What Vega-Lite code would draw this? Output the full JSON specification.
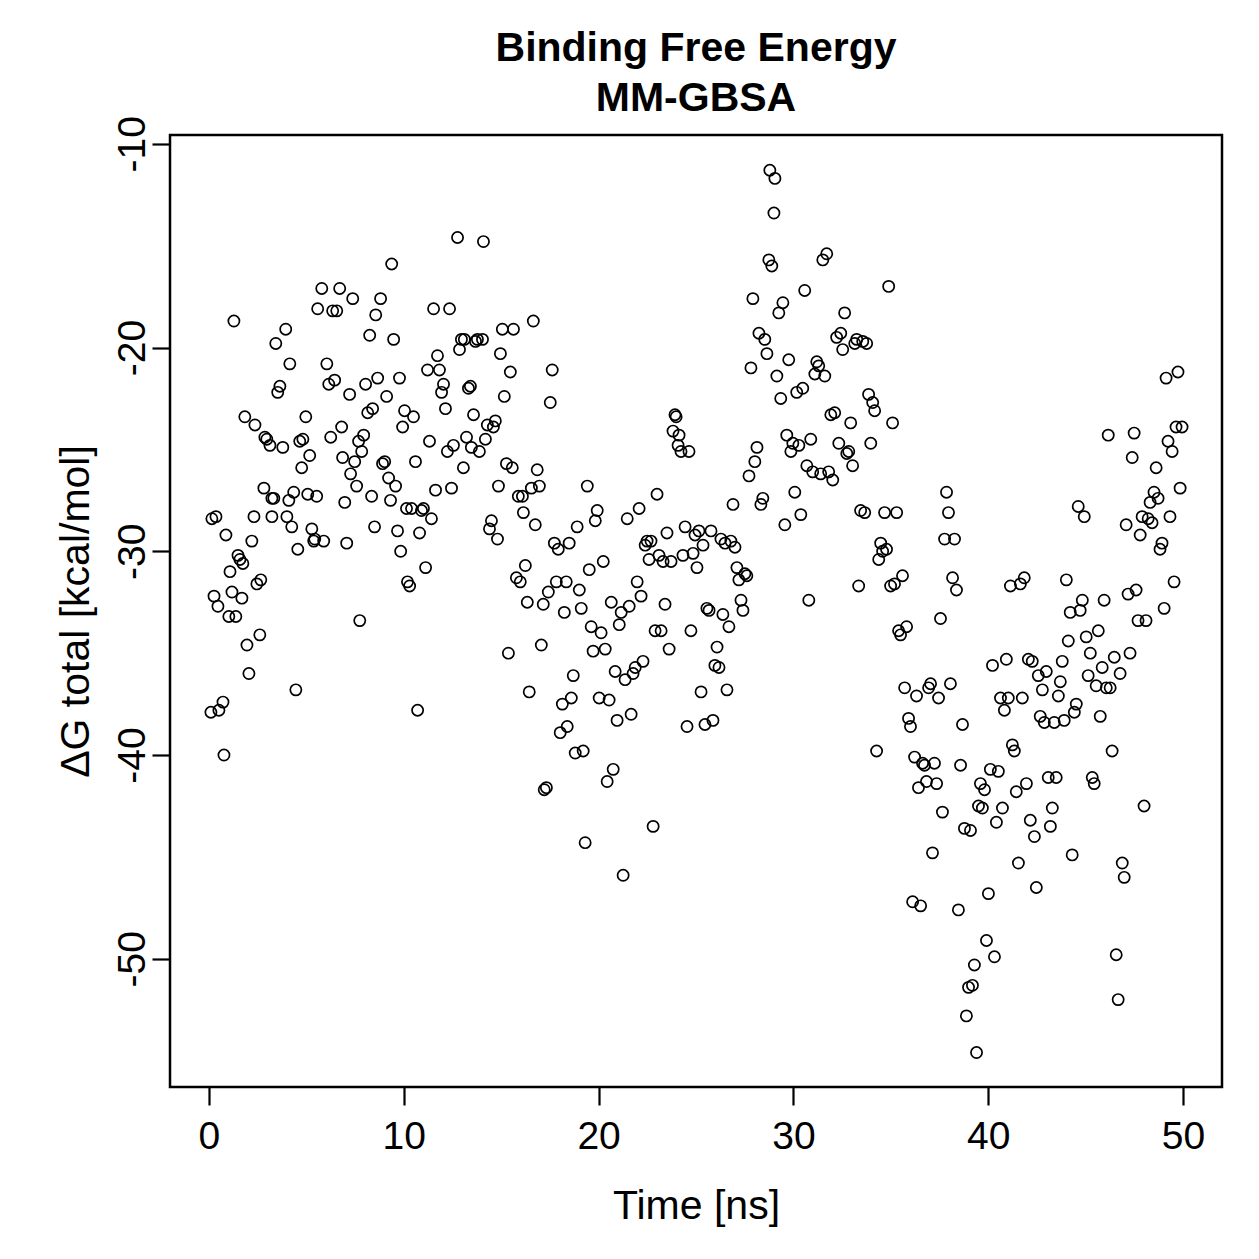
{
  "$schema": "https://vega.github.io/schema/vega-lite/v6.json",
  "autosize": "none",
  "width": 1052,
  "height": 952,
  "padding": {"left": 170, "top": 135, "right": 37, "bottom": 172},
  "background": "white",
  "config": {
    "font": "Liberation Sans",
    "view": {"stroke": "black", "strokeWidth": 2.5},
    "axis": {"grid": false, "domain": false, "tickColor": "black", "tickWidth": 2.2, "tickSize": 18, "labelColor": "black", "titleColor": "black", "labelFontSize": 39, "titleFontSize": 41, "titleFontWeight": "normal", "labelFont": "Liberation Sans", "titleFont": "Liberation Sans"}
  },
  "title": {
    "text": ["Binding Free Energy", "MM-GBSA"],
    "fontSize": 41,
    "fontWeight": "bold",
    "font": "Liberation Sans",
    "color": "black",
    "lineHeight": 50,
    "anchor": "middle",
    "offset": -4
  },
  "data": {
    "values": [
      {"t":0.10,"dG":-37.9},{"t":0.15,"dG":-28.4},{"t":0.36,"dG":-28.3},{"t":0.26,"dG":-32.2},{"t":0.46,"dG":-32.7},
      {"t":0.51,"dG":-37.8},{"t":0.72,"dG":-37.4},{"t":0.77,"dG":-40.0},{"t":0.87,"dG":-29.2},{"t":1.02,"dG":-33.2},
      {"t":1.08,"dG":-31.0},{"t":1.18,"dG":-32.0},{"t":1.28,"dG":-18.7},{"t":1.38,"dG":-33.2},{"t":1.49,"dG":-30.2},
      {"t":1.59,"dG":-30.4},{"t":1.69,"dG":-32.3},{"t":1.74,"dG":-30.6},{"t":1.84,"dG":-23.4},{"t":1.95,"dG":-34.6},
      {"t":2.05,"dG":-36.0},{"t":2.20,"dG":-29.5},{"t":2.31,"dG":-28.3},{"t":2.36,"dG":-23.8},{"t":2.46,"dG":-31.6},
      {"t":2.61,"dG":-34.1},{"t":2.66,"dG":-31.4},{"t":2.82,"dG":-26.9},{"t":2.87,"dG":-24.4},{"t":2.97,"dG":-24.5},
      {"t":3.13,"dG":-24.8},{"t":3.23,"dG":-27.4},{"t":3.23,"dG":-28.3},{"t":3.33,"dG":-27.4},{"t":3.43,"dG":-19.8},
      {"t":3.53,"dG":-22.2},{"t":3.64,"dG":-21.9},{"t":3.79,"dG":-24.9},{"t":3.94,"dG":-19.1},{"t":4.00,"dG":-28.3},
      {"t":4.10,"dG":-27.5},{"t":4.15,"dG":-20.8},{"t":4.25,"dG":-28.8},{"t":4.35,"dG":-27.1},{"t":4.46,"dG":-36.8},
      {"t":4.56,"dG":-29.9},{"t":4.66,"dG":-24.6},{"t":4.76,"dG":-25.9},{"t":4.82,"dG":-24.5},{"t":4.97,"dG":-23.4},
      {"t":5.07,"dG":-27.2},{"t":5.17,"dG":-25.3},{"t":5.28,"dG":-28.9},{"t":5.38,"dG":-29.5},{"t":5.43,"dG":-29.4},
      {"t":5.53,"dG":-27.3},{"t":5.58,"dG":-18.1},{"t":5.79,"dG":-17.1},{"t":5.89,"dG":-29.5},{"t":6.05,"dG":-20.8},
      {"t":6.15,"dG":-21.8},{"t":6.25,"dG":-24.4},{"t":6.35,"dG":-18.2},{"t":6.45,"dG":-21.6},{"t":6.56,"dG":-18.2},
      {"t":6.71,"dG":-17.1},{"t":6.81,"dG":-23.9},{"t":6.86,"dG":-25.4},{"t":6.97,"dG":-27.6},{"t":7.07,"dG":-29.6},
      {"t":7.22,"dG":-22.3},{"t":7.27,"dG":-26.2},{"t":7.38,"dG":-17.6},{"t":7.48,"dG":-25.6},{"t":7.58,"dG":-26.8},
      {"t":7.68,"dG":-24.6},{"t":7.74,"dG":-33.4},{"t":7.84,"dG":-25.1},{"t":7.94,"dG":-24.3},{"t":8.04,"dG":-21.8},
      {"t":8.15,"dG":-23.2},{"t":8.25,"dG":-19.4},{"t":8.35,"dG":-27.3},{"t":8.40,"dG":-23.0},{"t":8.50,"dG":-28.8},
      {"t":8.56,"dG":-18.4},{"t":8.66,"dG":-21.5},{"t":8.81,"dG":-17.6},{"t":8.91,"dG":-25.7},{"t":9.02,"dG":-25.6},
      {"t":9.12,"dG":-22.4},{"t":9.22,"dG":-26.4},{"t":9.32,"dG":-27.5},{"t":9.38,"dG":-15.9},{"t":9.48,"dG":-19.6},
      {"t":9.58,"dG":-26.8},{"t":9.68,"dG":-29.0},{"t":9.78,"dG":-21.5},{"t":9.84,"dG":-30.0},{"t":9.94,"dG":-23.9},
      {"t":10.04,"dG":-23.1},{"t":10.14,"dG":-27.9},{"t":10.19,"dG":-31.5},{"t":10.30,"dG":-31.7},{"t":10.40,"dG":-27.9},
      {"t":10.50,"dG":-23.4},{"t":10.60,"dG":-25.6},{"t":10.71,"dG":-37.8},{"t":10.81,"dG":-29.1},{"t":10.91,"dG":-28.0},
      {"t":11.01,"dG":-27.9},{"t":11.12,"dG":-30.8},{"t":11.22,"dG":-21.1},{"t":11.32,"dG":-24.6},{"t":11.42,"dG":-28.4},
      {"t":11.53,"dG":-18.1},{"t":11.63,"dG":-27.0},{"t":11.73,"dG":-20.4},{"t":11.83,"dG":-21.1},{"t":11.94,"dG":-22.2},
      {"t":12.04,"dG":-21.8},{"t":12.14,"dG":-23.0},{"t":12.24,"dG":-25.1},{"t":12.35,"dG":-18.1},{"t":12.45,"dG":-26.9},
      {"t":12.55,"dG":-24.8},{"t":12.76,"dG":-14.6},{"t":12.86,"dG":-20.1},{"t":12.96,"dG":-19.6},{"t":13.06,"dG":-25.9},
      {"t":13.11,"dG":-19.6},{"t":13.22,"dG":-24.4},{"t":13.32,"dG":-22.0},{"t":13.42,"dG":-21.9},{"t":13.47,"dG":-24.9},
      {"t":13.58,"dG":-23.3},{"t":13.68,"dG":-19.7},{"t":13.78,"dG":-19.6},{"t":13.88,"dG":-25.1},{"t":14.04,"dG":-19.6},
      {"t":14.09,"dG":-14.8},{"t":14.19,"dG":-24.5},{"t":14.29,"dG":-23.8},{"t":14.40,"dG":-28.9},{"t":14.50,"dG":-28.5},
      {"t":14.60,"dG":-23.9},{"t":14.70,"dG":-23.6},{"t":14.81,"dG":-29.4},{"t":14.86,"dG":-26.8},{"t":14.96,"dG":-20.3},
      {"t":15.06,"dG":-19.1},{"t":15.16,"dG":-22.4},{"t":15.27,"dG":-25.7},{"t":15.37,"dG":-35.0},{"t":15.47,"dG":-21.2},
      {"t":15.57,"dG":-25.9},{"t":15.63,"dG":-19.1},{"t":15.78,"dG":-31.3},{"t":15.88,"dG":-27.3},{"t":15.98,"dG":-31.5},
      {"t":16.09,"dG":-27.3},{"t":16.14,"dG":-28.1},{"t":16.24,"dG":-30.7},{"t":16.34,"dG":-32.5},{"t":16.44,"dG":-36.9},
      {"t":16.55,"dG":-26.9},{"t":16.65,"dG":-18.7},{"t":16.75,"dG":-28.7},{"t":16.85,"dG":-26.0},{"t":16.96,"dG":-26.8},
      {"t":17.06,"dG":-34.6},{"t":17.16,"dG":-32.6},{"t":17.21,"dG":-41.7},{"t":17.32,"dG":-41.6},{"t":17.42,"dG":-32.0},
      {"t":17.52,"dG":-22.7},{"t":17.62,"dG":-21.1},{"t":17.73,"dG":-29.6},{"t":17.83,"dG":-31.5},{"t":17.93,"dG":-29.9},
      {"t":18.03,"dG":-38.9},{"t":18.14,"dG":-37.5},{"t":18.24,"dG":-33.0},{"t":18.34,"dG":-31.5},{"t":18.39,"dG":-38.6},
      {"t":18.49,"dG":-29.6},{"t":18.60,"dG":-37.2},{"t":18.70,"dG":-36.1},{"t":18.80,"dG":-39.9},{"t":18.90,"dG":-28.8},
      {"t":19.01,"dG":-31.9},{"t":19.11,"dG":-32.8},{"t":19.21,"dG":-39.8},{"t":19.31,"dG":-44.3},{"t":19.42,"dG":-26.8},
      {"t":19.52,"dG":-30.9},{"t":19.62,"dG":-33.7},{"t":19.72,"dG":-34.9},{"t":19.83,"dG":-28.5},{"t":19.93,"dG":-28.0},
      {"t":20.03,"dG":-37.2},{"t":20.13,"dG":-34.0},{"t":20.24,"dG":-30.5},{"t":20.34,"dG":-34.8},{"t":20.44,"dG":-41.3},
      {"t":20.54,"dG":-37.3},{"t":20.65,"dG":-32.5},{"t":20.75,"dG":-40.7},{"t":20.85,"dG":-35.9},{"t":20.95,"dG":-38.3},
      {"t":21.06,"dG":-33.6},{"t":21.16,"dG":-33.0},{"t":21.26,"dG":-45.9},{"t":21.36,"dG":-36.3},{"t":21.47,"dG":-28.4},
      {"t":21.57,"dG":-32.7},{"t":21.67,"dG":-38.0},{"t":21.77,"dG":-36.0},{"t":21.88,"dG":-35.7},{"t":21.98,"dG":-31.5},
      {"t":22.08,"dG":-27.9},{"t":22.18,"dG":-32.2},{"t":22.28,"dG":-35.4},{"t":22.39,"dG":-29.7},{"t":22.49,"dG":-29.5},
      {"t":22.59,"dG":-30.4},{"t":22.69,"dG":-29.5},{"t":22.80,"dG":-43.5},{"t":22.90,"dG":-33.9},{"t":23.00,"dG":-27.2},
      {"t":23.10,"dG":-30.2},{"t":23.21,"dG":-33.9},{"t":23.31,"dG":-30.5},{"t":23.41,"dG":-32.6},{"t":23.51,"dG":-29.1},
      {"t":23.62,"dG":-34.8},{"t":23.72,"dG":-30.5},{"t":23.82,"dG":-24.1},{"t":23.92,"dG":-23.3},{"t":23.98,"dG":-23.4},
      {"t":24.08,"dG":-24.8},{"t":24.13,"dG":-24.3},{"t":24.23,"dG":-25.1},{"t":24.33,"dG":-30.2},{"t":24.44,"dG":-28.8},
      {"t":24.54,"dG":-38.6},{"t":24.64,"dG":-25.1},{"t":24.74,"dG":-33.9},{"t":24.85,"dG":-30.1},{"t":24.95,"dG":-29.2},
      {"t":25.05,"dG":-30.8},{"t":25.15,"dG":-29.0},{"t":25.26,"dG":-36.9},{"t":25.36,"dG":-29.7},{"t":25.46,"dG":-38.5},
      {"t":25.56,"dG":-32.8},{"t":25.67,"dG":-32.9},{"t":25.77,"dG":-29.0},{"t":25.87,"dG":-38.3},{"t":25.97,"dG":-35.6},
      {"t":26.08,"dG":-34.7},{"t":26.18,"dG":-35.7},{"t":26.28,"dG":-29.4},{"t":26.38,"dG":-33.1},{"t":26.49,"dG":-29.6},
      {"t":26.59,"dG":-36.8},{"t":26.69,"dG":-33.7},{"t":26.79,"dG":-29.5},{"t":26.90,"dG":-27.7},{"t":27.00,"dG":-29.8},
      {"t":27.10,"dG":-30.8},{"t":27.20,"dG":-31.4},{"t":27.31,"dG":-32.4},{"t":27.41,"dG":-32.9},{"t":27.51,"dG":-31.1},
      {"t":27.61,"dG":-31.2},{"t":27.72,"dG":-26.3},{"t":27.82,"dG":-21.0},{"t":27.92,"dG":-17.6},{"t":28.02,"dG":-25.6},
      {"t":28.13,"dG":-24.9},{"t":28.23,"dG":-19.3},{"t":28.33,"dG":-27.7},{"t":28.43,"dG":-27.4},{"t":28.53,"dG":-19.6},
      {"t":28.64,"dG":-20.3},{"t":28.74,"dG":-15.7},{"t":28.79,"dG":-11.3},{"t":28.89,"dG":-16.0},{"t":29.00,"dG":-13.4},
      {"t":29.05,"dG":-11.7},{"t":29.15,"dG":-21.4},{"t":29.25,"dG":-18.3},{"t":29.35,"dG":-22.5},{"t":29.46,"dG":-17.8},
      {"t":29.56,"dG":-28.7},{"t":29.66,"dG":-24.3},{"t":29.76,"dG":-20.6},{"t":29.87,"dG":-25.1},{"t":29.97,"dG":-24.7},
      {"t":30.07,"dG":-27.1},{"t":30.17,"dG":-22.2},{"t":30.28,"dG":-24.8},{"t":30.38,"dG":-28.2},{"t":30.48,"dG":-22.0},
      {"t":30.58,"dG":-17.2},{"t":30.69,"dG":-25.8},{"t":30.79,"dG":-32.4},{"t":30.89,"dG":-24.5},{"t":30.99,"dG":-26.1},
      {"t":31.10,"dG":-21.3},{"t":31.20,"dG":-20.7},{"t":31.30,"dG":-20.9},{"t":31.40,"dG":-26.2},{"t":31.51,"dG":-15.7},
      {"t":31.61,"dG":-21.4},{"t":31.71,"dG":-15.4},{"t":31.81,"dG":-26.1},{"t":31.92,"dG":-23.3},{"t":32.02,"dG":-26.5},
      {"t":32.12,"dG":-23.2},{"t":32.22,"dG":-19.5},{"t":32.33,"dG":-24.7},{"t":32.43,"dG":-19.3},{"t":32.53,"dG":-20.1},
      {"t":32.63,"dG":-18.3},{"t":32.74,"dG":-25.2},{"t":32.84,"dG":-25.1},{"t":32.94,"dG":-23.7},{"t":33.04,"dG":-25.8},
      {"t":33.15,"dG":-19.8},{"t":33.25,"dG":-19.6},{"t":33.35,"dG":-31.7},{"t":33.45,"dG":-28.0},{"t":33.56,"dG":-19.7},
      {"t":33.66,"dG":-28.1},{"t":33.76,"dG":-19.8},{"t":33.86,"dG":-22.3},{"t":33.97,"dG":-24.7},{"t":34.07,"dG":-22.7},
      {"t":34.17,"dG":-23.1},{"t":34.27,"dG":-39.8},{"t":34.38,"dG":-30.4},{"t":34.48,"dG":-29.6},{"t":34.58,"dG":-30.0},
      {"t":34.68,"dG":-28.1},{"t":34.78,"dG":-29.9},{"t":34.89,"dG":-17.0},{"t":34.99,"dG":-31.7},{"t":35.09,"dG":-23.7},
      {"t":35.19,"dG":-31.6},{"t":35.30,"dG":-28.1},{"t":35.40,"dG":-33.9},{"t":35.50,"dG":-34.1},{"t":35.60,"dG":-31.2},
      {"t":35.71,"dG":-36.7},{"t":35.81,"dG":-33.7},{"t":35.91,"dG":-38.2},{"t":36.01,"dG":-38.6},{"t":36.12,"dG":-47.2},
      {"t":36.22,"dG":-40.1},{"t":36.32,"dG":-37.1},{"t":36.42,"dG":-41.6},{"t":36.53,"dG":-47.4},{"t":36.63,"dG":-40.4},
      {"t":36.73,"dG":-40.5},{"t":36.83,"dG":-41.3},{"t":36.94,"dG":-36.7},{"t":37.04,"dG":-36.5},{"t":37.14,"dG":-44.8},
      {"t":37.24,"dG":-40.4},{"t":37.35,"dG":-41.4},{"t":37.45,"dG":-37.2},{"t":37.55,"dG":-33.3},{"t":37.65,"dG":-42.8},
      {"t":37.76,"dG":-29.4},{"t":37.86,"dG":-27.1},{"t":37.96,"dG":-28.1},{"t":38.06,"dG":-36.5},{"t":38.17,"dG":-31.3},
      {"t":38.27,"dG":-29.4},{"t":38.37,"dG":-31.9},{"t":38.47,"dG":-47.6},{"t":38.58,"dG":-40.5},{"t":38.68,"dG":-38.5},
      {"t":38.78,"dG":-43.6},{"t":38.88,"dG":-52.8},{"t":38.99,"dG":-51.4},{"t":39.09,"dG":-43.7},{"t":39.19,"dG":-51.3},
      {"t":39.29,"dG":-50.3},{"t":39.40,"dG":-54.6},{"t":39.50,"dG":-42.5},{"t":39.60,"dG":-41.4},{"t":39.70,"dG":-42.6},
      {"t":39.81,"dG":-41.7},{"t":39.91,"dG":-49.1},{"t":40.01,"dG":-46.8},{"t":40.11,"dG":-40.7},{"t":40.22,"dG":-35.6},
      {"t":40.32,"dG":-49.9},{"t":40.42,"dG":-43.3},{"t":40.52,"dG":-40.8},{"t":40.63,"dG":-37.2},{"t":40.73,"dG":-42.6},
      {"t":40.83,"dG":-37.8},{"t":40.93,"dG":-35.3},{"t":41.03,"dG":-37.2},{"t":41.14,"dG":-31.7},{"t":41.24,"dG":-39.5},
      {"t":41.34,"dG":-39.8},{"t":41.44,"dG":-41.8},{"t":41.55,"dG":-45.3},{"t":41.65,"dG":-31.6},{"t":41.75,"dG":-37.2},
      {"t":41.85,"dG":-31.3},{"t":41.96,"dG":-41.4},{"t":42.06,"dG":-35.3},{"t":42.16,"dG":-43.2},{"t":42.26,"dG":-35.4},
      {"t":42.37,"dG":-44.0},{"t":42.47,"dG":-46.5},{"t":42.57,"dG":-36.1},{"t":42.67,"dG":-38.1},{"t":42.78,"dG":-36.8},
      {"t":42.88,"dG":-38.4},{"t":42.98,"dG":-35.9},{"t":43.08,"dG":-41.1},{"t":43.19,"dG":-43.5},{"t":43.29,"dG":-42.6},
      {"t":43.39,"dG":-38.4},{"t":43.49,"dG":-41.1},{"t":43.60,"dG":-37.1},{"t":43.70,"dG":-36.4},{"t":43.80,"dG":-35.4},
      {"t":43.90,"dG":-38.3},{"t":44.01,"dG":-31.4},{"t":44.11,"dG":-34.4},{"t":44.21,"dG":-33.0},{"t":44.31,"dG":-44.9},
      {"t":44.42,"dG":-37.9},{"t":44.52,"dG":-37.5},{"t":44.62,"dG":-27.8},{"t":44.72,"dG":-32.9},{"t":44.83,"dG":-32.4},
      {"t":44.93,"dG":-28.3},{"t":45.03,"dG":-34.2},{"t":45.13,"dG":-36.1},{"t":45.24,"dG":-35.0},{"t":45.34,"dG":-41.1},
      {"t":45.44,"dG":-41.4},{"t":45.54,"dG":-36.6},{"t":45.65,"dG":-33.9},{"t":45.75,"dG":-38.1},{"t":45.85,"dG":-35.7},
      {"t":45.95,"dG":-32.4},{"t":46.06,"dG":-36.7},{"t":46.16,"dG":-24.3},{"t":46.26,"dG":-36.7},{"t":46.36,"dG":-39.8},
      {"t":46.47,"dG":-35.2},{"t":46.57,"dG":-49.8},{"t":46.67,"dG":-52.0},{"t":46.77,"dG":-36.0},{"t":46.88,"dG":-45.3},
      {"t":46.98,"dG":-46.0},{"t":47.08,"dG":-28.7},{"t":47.18,"dG":-32.1},{"t":47.28,"dG":-35.0},{"t":47.39,"dG":-25.4},
      {"t":47.49,"dG":-24.2},{"t":47.59,"dG":-31.9},{"t":47.69,"dG":-33.4},{"t":47.80,"dG":-29.2},{"t":47.90,"dG":-28.3},
      {"t":48.00,"dG":-42.5},{"t":48.10,"dG":-33.4},{"t":48.21,"dG":-28.4},{"t":48.31,"dG":-27.6},{"t":48.41,"dG":-28.6},
      {"t":48.51,"dG":-27.1},{"t":48.62,"dG":-25.9},{"t":48.72,"dG":-27.4},{"t":48.82,"dG":-29.9},{"t":48.92,"dG":-29.6},
      {"t":49.03,"dG":-32.8},{"t":49.13,"dG":-21.5},{"t":49.23,"dG":-24.6},{"t":49.33,"dG":-28.3},{"t":49.44,"dG":-25.1},
      {"t":49.54,"dG":-31.5},{"t":49.64,"dG":-23.9},{"t":49.74,"dG":-21.2},{"t":49.85,"dG":-26.9},{"t":49.95,"dG":-23.9}
    ]
  },
  "mark": {"type": "point", "shape": "circle", "filled": false, "stroke": "black", "strokeWidth": 1.7, "size": 125, "opacity": 1},
  "encoding": {
    "x": {
      "field": "t",
      "type": "quantitative",
      "scale": {"domain": [-2, 52], "nice": false, "zero": false},
      "axis": {"values": [0, 10, 20, 30, 40, 50], "labelExpr": "toString(datum.value)", "title": "Time [ns]", "labelPadding": 12, "labelBaseline": "top", "titleBaseline": "alphabetic", "titleY": 131, "titleX": 526}
    },
    "y": {
      "field": "dG",
      "type": "quantitative",
      "scale": {"domain": [-56.29, -9.57], "nice": false, "zero": false},
      "axis": {"values": [-50, -40, -30, -20, -10], "labelExpr": "toString(datum.value)", "title": "ΔG total [kcal/mol]", "labelAngle": 270, "labelAlign": "center", "labelBaseline": "alphabetic", "labelPadding": 8, "titleAngle": 270, "titleAlign": "center", "titleBaseline": "alphabetic", "titleX": -82, "titleY": 476}
    }
  }
}
